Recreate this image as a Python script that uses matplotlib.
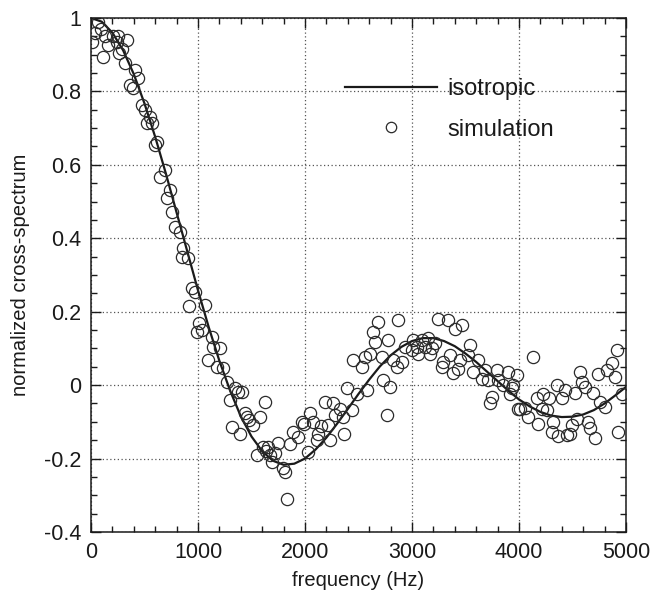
import matplotlib
matplotlib.use("Agg")
import matplotlib.pyplot as plt
from matplotlib.ticker import MultipleLocator

plt.rcParams['font.family'] = ['Liberation Sans', 'DejaVu Sans']

# isotropic curve (read every 100 Hz)
iso_freq = list(range(0, 5001, 100))
iso_vals = [1.000, 0.990, 0.960, 0.912, 0.847, 0.767, 0.676, 0.576, 0.470, 0.364,
            0.258, 0.158, 0.066, -0.015, -0.085, -0.140, -0.180, -0.206, -0.217, -0.214,
            -0.200, -0.175, -0.143, -0.105, -0.065, -0.024, 0.015, 0.051, 0.081, 0.104,
            0.120, 0.128, 0.128, 0.120, 0.106, 0.086, 0.063, 0.037, 0.011, -0.015,
            -0.039, -0.058, -0.073, -0.083, -0.087, -0.086, -0.080, -0.068, -0.050, -0.028,
            -0.005]

# simulation points
sim_freq = [6, 37, 68, 90, 112, 131, 162, 206, 240, 253, 265, 290, 318, 333, 364, 390,
            411, 439, 474, 505, 520, 551, 567, 598, 614, 645, 692, 708, 738,
            754, 785, 832, 847, 860, 907, 916, 941, 972, 988, 1009, 1035, 1065, 1093,
            1128, 1140, 1175, 1206, 1234, 1268, 1300, 1315, 1346,
            1377, 1393, 1408, 1439, 1455, 1480, 1517, 1548, 1579, 1610, 1626, 1640, 1657,
            1673, 1690, 1720, 1750, 1797, 1813, 1828, 1860, 1890, 1937, 1968, 1990, 2028,
            2047, 2077, 2109, 2122, 2150, 2187,
            2218, 2234, 2265, 2280, 2327, 2358, 2365, 2390, 2436, 2452, 2483, 2530,
            2561, 2576, 2607, 2639, 2654, 2686, 2717, 2730, 2763, 2779, 2794, 2826, 2857,
            2873, 2903, 2935, 2997,
            3013, 3044, 3060, 3090, 3122, 3153, 3170, 3184, 3215, 3246, 3277, 3293, 3340,
            3355, 3387, 3402, 3433, 3449, 3464, 3526, 3542, 3573, 3620, 3650, 3682, 3713,
            3729, 3744, 3791, 3807, 3854, 3900, 3916, 3931, 3947, 3978, 3994,
            4009, 4056, 4087, 4134, 4165, 4181, 4212, 4227, 4259, 4283, 4306, 4321, 4352,
            4368, 4399, 4430, 4446, 4477, 4492, 4523, 4539, 4570, 4586, 4617, 4648, 4664,
            4694, 4710, 4741, 4757, 4804, 4819, 4866, 4897, 4913, 4928, 4959]
sim_vals = [0.935, 0.96, 0.99, 0.97, 0.895, 0.95, 0.926, 0.95, 0.935, 0.95, 0.905, 0.915,
            0.877, 0.94, 0.817, 0.81, 0.858, 0.836, 0.763, 0.749, 0.714, 0.73, 0.714, 0.654,
            0.663, 0.568, 0.586, 0.51, 0.531,
            0.472, 0.431, 0.418, 0.35, 0.373, 0.346, 0.215, 0.264, 0.254, 0.145, 0.169,
            0.15, 0.218, 0.068, 0.132, 0.104, 0.05, 0.1, 0.046, 0.009, -0.04, -0.114, -0.008,
            -0.02, -0.132, -0.018, -0.077, -0.086, -0.095, -0.109, -0.19, -0.086, -0.168,
            -0.045, -0.18, -0.168, -0.19, -0.209, -0.185, -0.159, -0.227, -0.236, -0.309,
            -0.16, -0.127, -0.14, -0.1, -0.105, -0.182, -0.077, -0.1, -0.15, -0.132, -0.11,
            -0.045,
            -0.109, -0.15, -0.05, -0.082, -0.064, -0.086, -0.132, -0.009, -0.068, 0.068,
            -0.023, 0.05, 0.077, -0.014, 0.086, 0.145, 0.118, 0.173, 0.077, 0.014, -0.082,
            0.123, -0.005, 0.068, 0.05, 0.177, 0.063, 0.104, 0.095,
            0.123, 0.104, 0.085, 0.123, 0.104, 0.127, 0.085, 0.1, 0.114, 0.179, 0.05, 0.063,
            0.177, 0.082, 0.032, 0.152, 0.045, 0.068, 0.163, 0.082, 0.109, 0.036, 0.068,
            0.018, 0.041, 0.014, -0.05, -0.032, 0.041, 0.014, 0.0, 0.036, -0.023, -0.009,
            0.0, 0.027, -0.064,
            -0.064, -0.061, -0.086, 0.077, -0.036, -0.105, -0.064, -0.025, -0.068, -0.034,
            -0.127, -0.1, 0.0, -0.139, -0.036, -0.012, -0.136, -0.132, -0.109, -0.021,
            -0.091, 0.036, 0.009, -0.005, -0.1, -0.118, -0.021, -0.143, 0.03, -0.045,
            -0.059, 0.041, 0.059, 0.023, 0.095, -0.127, -0.023]

fig = plt.figure(figsize=(6.51, 5.92), dpi=100)
ax = fig.add_axes([0.1398, 0.1014, 0.8218, 0.8682])

ax.plot(iso_freq, iso_vals, color='#1a1a1a', lw=1.6, label='isotropic', zorder=3)
ax.plot(sim_freq, sim_vals, linestyle='none', marker='o', ms=8.8, mfc='none',
        mec='#2a2a2a', mew=0.9, label='simulation', zorder=4)

ax.set_xlim(0, 5000)
ax.set_ylim(-0.4, 1.0)
ax.xaxis.set_major_locator(MultipleLocator(1000))
ax.xaxis.set_minor_locator(MultipleLocator(200))
ax.yaxis.set_minor_locator(MultipleLocator(0.05))
ax.set_yticks([-0.4, -0.2, 0, 0.2, 0.4, 0.6, 0.8, 1.0])
ax.set_yticklabels(['-0.4', '-0.2', '0', '0.2', '0.4', '0.6', '0.8', '1'])
ax.tick_params(which='both', direction='in', top=True, right=True, labelsize=15.5,
               colors='#1a1a1a', width=1)
ax.tick_params(which='major', length=7, pad=7)
ax.tick_params(which='minor', length=4)
ax.grid(True, which='major', linestyle=(0, (1, 2)), color='#555555', lw=0.9)
for s in ax.spines.values():
    s.set_linewidth(1.1)
    s.set_color('#1a1a1a')

ax.set_xlabel('frequency (Hz)', fontsize=14.5, color='#1a1a1a', labelpad=6)
ax.set_ylabel('normalized cross-spectrum', fontsize=14.5, color='#1a1a1a', labelpad=10)

leg = ax.legend(loc='upper left', bbox_to_anchor=(0.4748, 0.883), frameon=False,
                fontsize=17, handlelength=3.9, handletextpad=0.42, labelspacing=0.78,
                borderpad=0, borderaxespad=0, numpoints=1, markerscale=0.85)
for t in leg.get_texts():
    t.set_color('#1a1a1a')

fig.savefig('out.png', dpi=100)
